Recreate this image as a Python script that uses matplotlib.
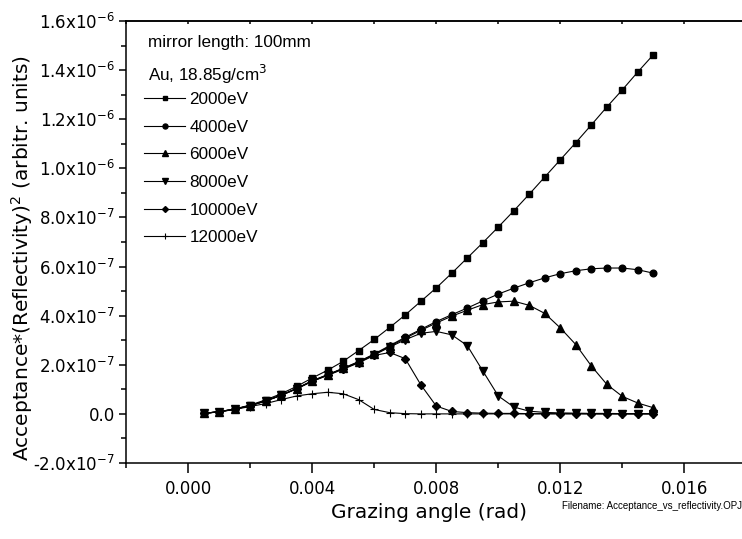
import matplotlib
matplotlib.use("Agg")
import matplotlib.pyplot as plt
from matplotlib.ticker import MultipleLocator, FuncFormatter, FixedLocator

# ---------------- data (values in units of 1e-7) ----------------
angle = [0.0005, 0.001, 0.0015, 0.002, 0.0025, 0.003, 0.0035, 0.004, 0.0045, 0.005,
         0.0055, 0.006, 0.0065, 0.007, 0.0075, 0.008, 0.0085, 0.009, 0.0095, 0.010,
         0.0105, 0.011, 0.0115, 0.012, 0.0125, 0.013, 0.0135, 0.014, 0.0145, 0.015]

e2000 = [0.02, 0.09, 0.20, 0.36, 0.57, 0.82, 1.12, 1.46, 1.78, 2.14,
         2.58, 3.03, 3.52, 4.03, 4.58, 5.13, 5.73, 6.35, 6.97, 7.61,
         8.27, 8.95, 9.65, 10.35, 11.05, 11.77, 12.50, 13.20, 13.93, 14.63]
e4000 = [0.02, 0.09, 0.19, 0.34, 0.53, 0.76, 1.04, 1.35, 1.60, 1.86,
         2.13, 2.44, 2.78, 3.12, 3.44, 3.76, 4.04, 4.31, 4.60, 4.88,
         5.12, 5.34, 5.54, 5.71, 5.83, 5.91, 5.94, 5.94, 5.87, 5.73]
e6000 = [0.02, 0.09, 0.19, 0.34, 0.53, 0.76, 1.03, 1.34, 1.59, 1.85,
         2.12, 2.42, 2.75, 3.08, 3.40, 3.70, 3.98, 4.22, 4.45, 4.56,
         4.59, 4.42, 4.09, 3.50, 2.82, 1.95, 1.20, 0.71, 0.44, 0.25]
e8000 = [0.02, 0.09, 0.19, 0.34, 0.53, 0.76, 1.03, 1.33, 1.58, 1.84,
         2.10, 2.40, 2.72, 3.02, 3.28, 3.36, 3.22, 2.78, 1.75, 0.73,
         0.28, 0.11, 0.06, 0.04, 0.03, 0.02, 0.02, 0.01, 0.01, 0.01]
e10000 = [0.02, 0.09, 0.19, 0.33, 0.52, 0.75, 1.02, 1.32, 1.57, 1.82,
          2.08, 2.38, 2.50, 2.25, 1.19, 0.32, 0.10, 0.05, 0.03, 0.02,
          0.02, 0.01, 0.01, 0.01, 0.01, 0.00, 0.00, 0.00, 0.00, 0.00]
e12000 = [0.02, 0.08, 0.18, 0.30, 0.42, 0.58, 0.73, 0.82, 0.88, 0.82,
          0.58, 0.18, 0.05, 0.01, 0.00, 0.00, 0.00, 0.00, 0.00, 0.00,
          0.00, 0.00, 0.00, 0.00, 0.00, 0.00, 0.00, 0.00, 0.00, 0.00]

series_labels = ["2000eV", "4000eV", "6000eV", "8000eV", "10000eV", "12000eV"]
UNIT = 1e-7

x_ticks = [0.000, 0.004, 0.008, 0.012, 0.016]
y_ticks = [-2e-7, 0.0, 2e-7, 4e-7, 6e-7, 8e-7, 1.0e-6, 1.2e-6, 1.4e-6, 1.6e-6]

# ---------------- figure ----------------
W, H = 742, 539
fig = plt.figure(figsize=(W / 100, H / 100), dpi=100)
fig.patch.set_facecolor("white")
plt.rcParams["mathtext.fontset"] = "dejavusans"

left, right, top, bottom = 126, 746.5, 21, 463
ax = fig.add_axes([left / W, 1 - bottom / H, (right - left) / W, (bottom - top) / H])

styles = [
    dict(marker="s", ms=4.6),
    dict(marker="o", ms=4.8),
    dict(marker="^", ms=5.6),
    dict(marker="v", ms=5.6),
    dict(marker="D", ms=4.0),
    dict(marker="+", ms=6.0, mew=0.8),
]
all_series = [e2000, e4000, e6000, e8000, e10000, e12000]
lines = []
for vals, lab, st in zip(all_series, series_labels, styles):
    ys = [v * UNIT for v in vals]
    ln, = ax.plot(angle, ys, color="black", lw=0.8, mfc="black", mec="black",
                  label=lab, clip_on=False, **st)
    lines.append(ln)

ax.set_xlim(-0.002, 0.018)
ax.set_ylim(-2e-7, 1.6e-6)

for sp in ["left", "bottom", "top"]:
    ax.spines[sp].set_linewidth(1.1)
ax.spines["right"].set_visible(False)

ax.xaxis.set_major_locator(FixedLocator(x_ticks))
ax.xaxis.set_minor_locator(MultipleLocator(0.002))
ax.yaxis.set_major_locator(FixedLocator(y_ticks))
ax.yaxis.set_minor_locator(MultipleLocator(1e-7))

ax.xaxis.set_major_formatter(FuncFormatter(lambda v, p: f"{v:.3f}"))


def yfmt(v, p):
    if abs(v) < 1e-12:
        return "0.0"
    exp = int(f"{v:e}".split("e")[1])
    mant = v / 10 ** exp
    return f"{mant:.1f}x10$^{{{exp}}}$"


ax.yaxis.set_major_formatter(FuncFormatter(yfmt))

ax.tick_params(axis="x", which="major", direction="out", length=7, width=1.1,
               labelsize=12, pad=5)
ax.tick_params(axis="x", which="minor", direction="out", length=3.6, width=1.1)
ax.tick_params(axis="y", which="major", direction="out", length=5, width=1.1,
               labelsize=12, pad=3)
ax.tick_params(axis="y", which="minor", direction="out", length=3.6, width=1.1)
for t in ax.get_xticklabels() + ax.get_yticklabels():
    t.set_fontfamily("DejaVu Sans")

sec = ax.secondary_xaxis("top")
sec.xaxis.set_major_locator(FixedLocator(x_ticks))
sec.xaxis.set_minor_locator(MultipleLocator(0.002))
sec.tick_params(axis="x", which="both", direction="in", length=2.5, width=1.1,
                labeltop=False)
sec.spines["top"].set_linewidth(1.1)

# axis labels
fig.text(429.5 / W, 1 - 513 / H, "Grazing angle (rad)", ha="center", va="center",
         fontsize=14.5, family="DejaVu Sans")
fig.text(22 / W, 1 - 258 / H, "Acceptance*(Reflectivity)$^2$ (arbitr. units)",
         ha="center", va="center", rotation=90, fontsize=14.5, family="DejaVu Sans")

# annotation texts
fig.text(148 / W, 1 - 47 / H, "mirror length: 100mm", ha="left", va="baseline",
         fontsize=12.3, family="Liberation Sans")
fig.text(148 / W, 1 - 80.7 / H, "Au, 18.85g/cm$^3$", ha="left", va="baseline",
         fontsize=12.3, family="Liberation Sans")

leg = ax.legend(handles=lines, loc="upper left",
                bbox_to_anchor=(144 / W, 1 - 92 / H), bbox_transform=fig.transFigure,
                frameon=False, borderpad=0, borderaxespad=0,
                handlelength=2.4, handletextpad=0.25, labelspacing=0.74,
                markerscale=0.75, prop=dict(family="Liberation Sans", size=12.3))

fig.text(562 / W, 1 - 506 / H, "Filename: Acceptance_vs_reflectivity.OPJ",
         ha="left", va="center", fontsize=7, family="Liberation Sans")

fig.savefig("out.png", dpi=100, facecolor="white")
